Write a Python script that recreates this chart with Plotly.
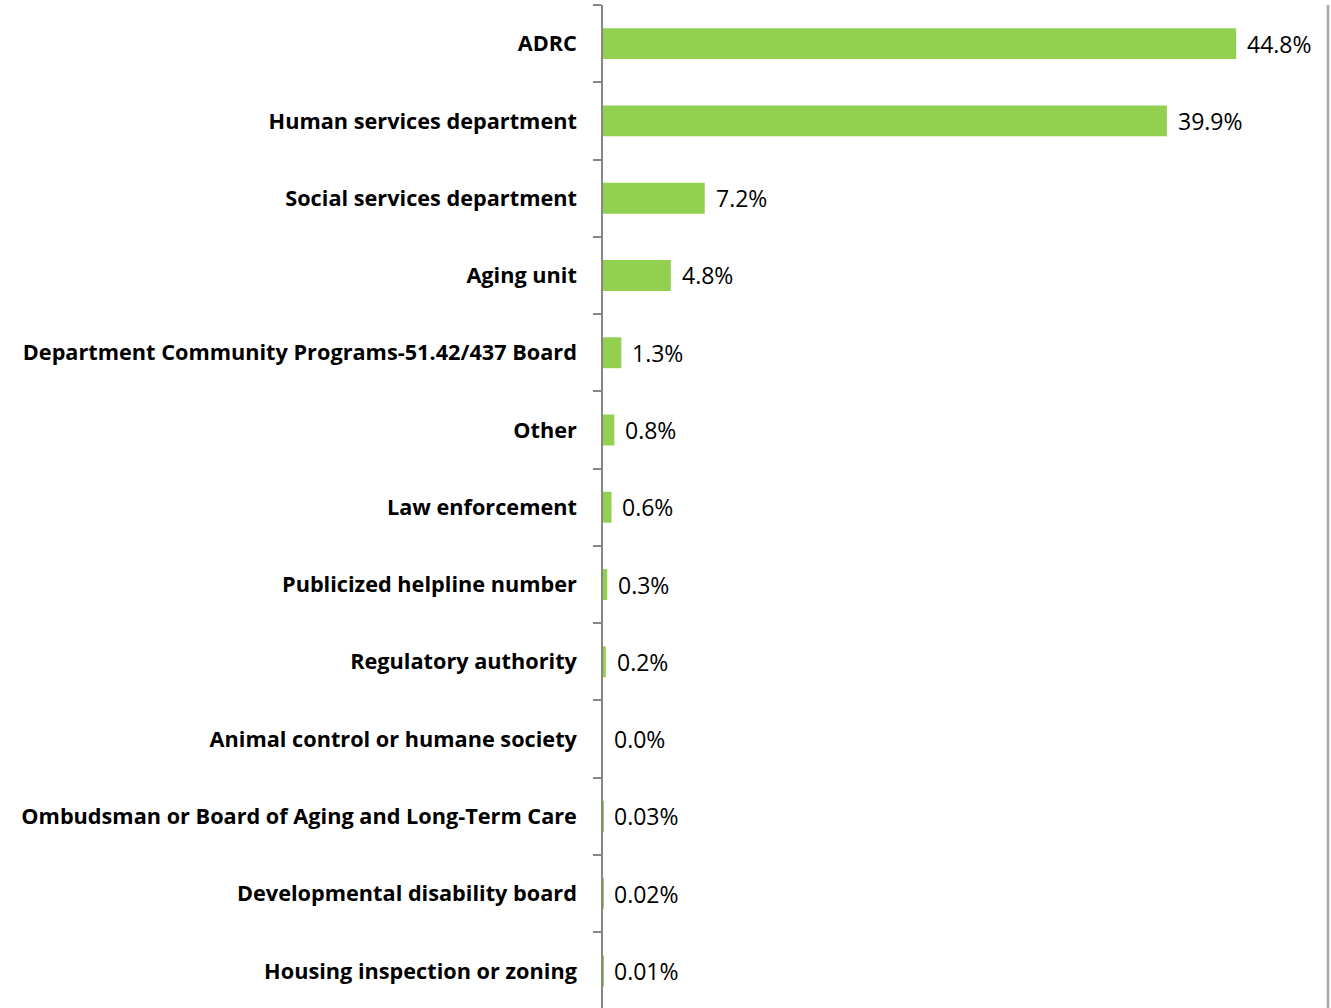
import plotly.graph_objects as go

categories = [
    "ADRC",
    "Human services department",
    "Social services department",
    "Aging unit",
    "Department Community Programs-51.42/437 Board",
    "Other",
    "Law enforcement",
    "Publicized helpline number",
    "Regulatory authority",
    "Animal control or humane society",
    "Ombudsman or Board of Aging and Long-Term Care",
    "Developmental disability board",
    "Housing inspection or zoning",
]
values = [44.8, 39.9, 7.2, 4.8, 1.3, 0.8, 0.6, 0.3, 0.2, 0.0, 0.03, 0.02, 0.01]
value_labels = ["44.8%", "39.9%", "7.2%", "4.8%", "1.3%", "0.8%", "0.6%",
                "0.3%", "0.2%", "0.0%", "0.03%", "0.02%", "0.01%"]

font_family = "'Open Sans', sans-serif"

fig = go.Figure(
    go.Bar(
        x=values,
        y=categories,
        orientation="h",
        width=0.4,
        marker=dict(color="#92D050", line=dict(width=0)),
        hoverinfo="none",
    )
)

# value labels just right of each bar end
for cat, val, lab in zip(categories, values, value_labels):
    fig.add_annotation(
        x=val, y=cat, text=lab, showarrow=False,
        xanchor="left", xshift=9,
        font=dict(family=font_family, size=23, color="#000000"),
    )

# grey border on the right of the chart area
fig.add_shape(
    type="line", xref="paper", yref="paper",
    x0=1, x1=1, y0=0, y1=1,
    line=dict(color="#A6A6A6", width=2.5),
)

fig.update_layout(
    width=1331,
    height=1008,
    margin=dict(l=603, r=3, t=5, b=0),
    plot_bgcolor="white",
    paper_bgcolor="white",
    showlegend=False,
    xaxis=dict(
        range=[0, 51.3],
        visible=False,
        fixedrange=True,
    ),
    yaxis=dict(
        type="category",
        categoryorder="array",
        categoryarray=categories,
        # last category runs slightly past the bottom edge, as in the original
        range=[12.48, -0.5],
        showline=True,
        linecolor="#868686",
        linewidth=1.5,
        ticks="outside",
        tickson="boundaries",
        ticklen=8,
        tickcolor="#868686",
        tickwidth=1.5,
        ticklabelstandoff=20,
        tickfont=dict(family=font_family, size=21.7, color="#000000", weight="bold"),
        showgrid=False,
        fixedrange=True,
    ),
)

# drop the default page margin so the figure sits at the window's top-left
fig.write_html(
    "out.html",
    config={"displayModeBar": False},
    post_script="document.body.style.margin='0';document.body.style.overflow='hidden';",
)
